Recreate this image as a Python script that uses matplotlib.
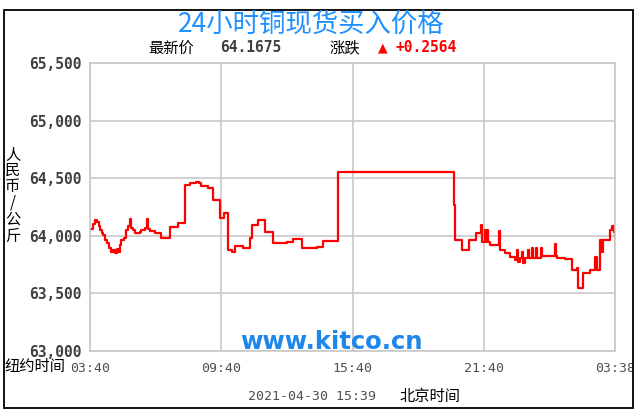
import matplotlib
matplotlib.use('Agg')
import matplotlib.pyplot as plt
from matplotlib.patches import Rectangle

plt.rcParams['font.family'] = ['Noto Sans CJK SC', 'DejaVu Sans']

# 数据：距 03:40（纽约时间）的分钟数，价格（人民币/公斤）
minutes = [0, 8, 14, 19, 25, 27, 33, 36, 41, 47, 52, 58, 63, 68, 74, 77, 82, 85, 93, 99,
           104, 110, 112, 118, 123, 137, 140, 151, 156, 159, 164, 178, 194, 219, 241,
           260, 274, 285, 290, 299, 304, 323, 337, 356, 367, 378, 389, 397, 419, 438,
           444, 460, 479, 501, 540, 556, 581, 622, 638, 679, 997, 1000, 1019, 1038,
           1057, 1071, 1074, 1082, 1085, 1087, 1090, 1096, 1120, 1123, 1137, 1150,
           1164, 1170, 1172, 1178, 1183, 1186, 1191, 1200, 1202, 1211, 1213, 1222,
           1224, 1235, 1238, 1274, 1276, 1279, 1301, 1320, 1334, 1337, 1350, 1370,
           1383, 1389, 1397, 1402, 1405, 1424, 1430, 1435, 1438]
prices = [64060, 64105, 64140, 64120, 64085, 64050, 64025, 64010, 63965, 63940, 63895,
          63860, 63880, 63850, 63885, 63860, 63920, 63965, 63985, 64050, 64085, 64150,
          64070, 64050, 64025, 64035, 64050, 64070, 64150, 64060, 64045, 64025, 63985,
          64080, 64115, 64445, 64455, 64460, 64470, 64455, 64435, 64415, 64315, 64155,
          64200, 63880, 63860, 63915, 63895, 63985, 64095, 64140, 64035, 63940, 63950,
          63975, 63890, 63905, 63955, 64555, 64270, 63965, 63880, 63965, 64025, 64095,
          63950, 64050, 63950, 64050, 63950, 63920, 64045, 63880, 63850, 63815, 63790,
          63880, 63775, 63810, 63860, 63765, 63810, 63880, 63810, 63895, 63810, 63895,
          63810, 63895, 63825, 63930, 63825, 63810, 63800, 63705, 63720, 63550, 63680,
          63705, 63815, 63705, 63965, 63860, 63965, 64050, 64085, 64035, 63990]

x_ticks = [0, 360, 720, 1080, 1438]
x_labels = ['03:40', '09:40', '15:40', '21:40', '03:38']
y_ticks = [63000, 63500, 64000, 64500, 65000, 65500]

W, H = 644, 417
fig = plt.figure(figsize=(6.44, 4.17), dpi=100)


def fx(x):
    return x / W


def fy(y):
    return 1 - y / H


# 外框
frame = Rectangle((fx(4), fy(408)), (633 - 4) / W, (408 - 10) / H,
                  transform=fig.transFigure, fill=False, ec='black', lw=1.3)
fig.patches.append(frame)

ax = fig.add_axes([fx(90), fy(351), (615 - 90) / W, (351 - 63) / H])
ax.plot(minutes, prices, color='#ff0000', lw=1.6, drawstyle='steps-post')
ax.set_xlim(0, 1438)
ax.set_ylim(63000, 65500)
ax.set_xticks(x_ticks)
ax.set_xticklabels(x_labels, family='DejaVu Sans Mono', fontsize=9.5, color='#505050')
ax.set_yticks(y_ticks)
ax.set_yticklabels([f'{v:,}' for v in y_ticks], family='DejaVu Sans Mono',
                   fontsize=10.5, fontweight='bold', color='#404040')
ax.tick_params(length=0)
ax.tick_params(axis='y', pad=6)
ax.tick_params(axis='x', pad=8)
ax.grid(color='#c8c8c8', lw=1.2)
for s in ax.spines.values():
    s.set_color('#c8c8c8')
    s.set_linewidth(1.2)
for lbl in ax.get_xticklabels():
    lbl.set_clip_path(frame)

# 标题与文字
fig.text(fx(311), fy(24), '24小时铜现货买入价格', ha='center', va='center',
         fontsize=19, color='#1e90ff')
fig.text(fx(148), fy(48), '最新价', ha='left', va='center', fontsize=11, color='black')
fig.text(fx(220), fy(48), '64.1675', ha='left', va='center', fontsize=10.5,
         family='DejaVu Sans Mono', fontweight='bold', color='#404040')
fig.text(fx(330), fy(48), '涨跌', ha='left', va='center', fontsize=11, color='black')
fig.text(fx(378), fy(48), '▲', ha='left', va='center', fontsize=9,
         family='DejaVu Sans', color='#ff0000')
fig.text(fx(395), fy(48), '+0.2564', ha='left', va='center', fontsize=10.5,
         family='DejaVu Sans Mono', fontweight='bold', color='#ff0000')

fig.text(fx(13), fy(195), '人\n民\n币\n/\n公\n斤', ha='center', va='center',
         fontsize=11, linespacing=0.95, color='black')
fig.text(fx(4), fy(367), '纽约时间', ha='left', va='center', fontsize=11, color='black')
fig.text(fx(331), fy(342), 'www.kitco.cn', ha='center', va='center', fontsize=17.5,
         family='DejaVu Sans', fontweight='bold', color='#1f86ea')
fig.text(fx(312), fy(397), '2021-04-30 15:39', ha='center', va='center', fontsize=9.5,
         family='DejaVu Sans Mono', color='#505050')
fig.text(fx(400), fy(397), '北京时间', ha='left', va='center', fontsize=11, color='black')

fig.savefig('out.png', dpi=100)
